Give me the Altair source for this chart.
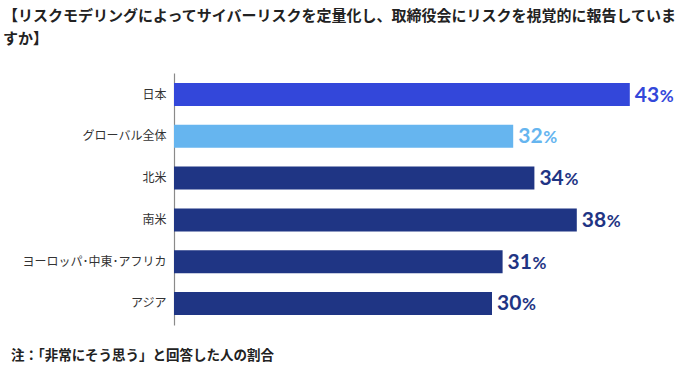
import altair as alt
import pandas as pd

categories = ["日本", "グローバル全体", "北米", "南米", "ヨーロッパ･中東･アフリカ", "アジア"]
values = [43, 32, 34, 38, 31, 30]
colors = ["#3347DA", "#66B5EF", "#1F3584", "#1F3584", "#1F3584", "#1F3584"]

title_lines = ["【リスクモデリングによってサイバーリスクを定量化し、取締役会にリスクを視覚的に報告していま", "すか】"]
note = "注：「非常にそう思う」と回答した人の割合"

df = pd.DataFrame({"cat": categories, "val": values, "color": colors})
df["num"] = df["val"].astype(str)

W, H = 477, 252
PL, PT = 174, 73

y = alt.Y("cat:N", sort=categories, title=None,
          scale=alt.Scale(paddingInner=0.45, paddingOuter=0.24),
          axis=alt.Axis(ticks=False, labelPadding=8, labelFontSize=12,
                        labelFont="Noto Sans CJK JP", labelColor="#333333",
                        domainColor="#8a8a8a", domainWidth=1.2))
x = alt.X("val:Q", scale=alt.Scale(domain=[0, 45]), axis=None)

base = alt.Chart(df)
bars = base.mark_bar().encode(x=x, y=y, color=alt.Color("color:N", scale=None))
nums = base.mark_text(align="left", baseline="middle", dx=5, dy=1, font="Lato",
                      fontWeight="bold", fontSize=21).encode(
    x=x, y=y, text="num:N", color=alt.Color("color:N", scale=None))
pct = base.mark_text(align="left", baseline="middle", dx=30, dy=2, font="Lato",
                     fontWeight="bold", fontSize=17).encode(
    x=x, y=y, text=alt.value("%"), color=alt.Color("color:N", scale=None))

def textline(t, xpos, ypos, size):
    d = pd.DataFrame({"t": [t]})
    return alt.Chart(d).mark_text(align="left", baseline="middle", font="Noto Sans CJK JP",
                                  fontWeight="bold", fontSize=size, color="#222222").encode(
        x=alt.value(xpos - PL), y=alt.value(ypos - PT), text="t:N")

t1 = textline(title_lines[0], 3, 16, 15)
t2 = textline(title_lines[1], 3, 39, 15)
nt = textline(note, 11, 356, 13.5)

chart = alt.layer(bars, nums, pct, t1, t2, nt).properties(
    width=W, height=H,
    background="white",
    autosize=alt.AutoSizeParams(type="none"),
    padding={"left": PL, "top": PT, "right": 700 - PL - W, "bottom": 376 - PT - H},
).configure_view(stroke=None)

chart.save("out.html", embed_options={"renderer": "svg", "actions": False})
